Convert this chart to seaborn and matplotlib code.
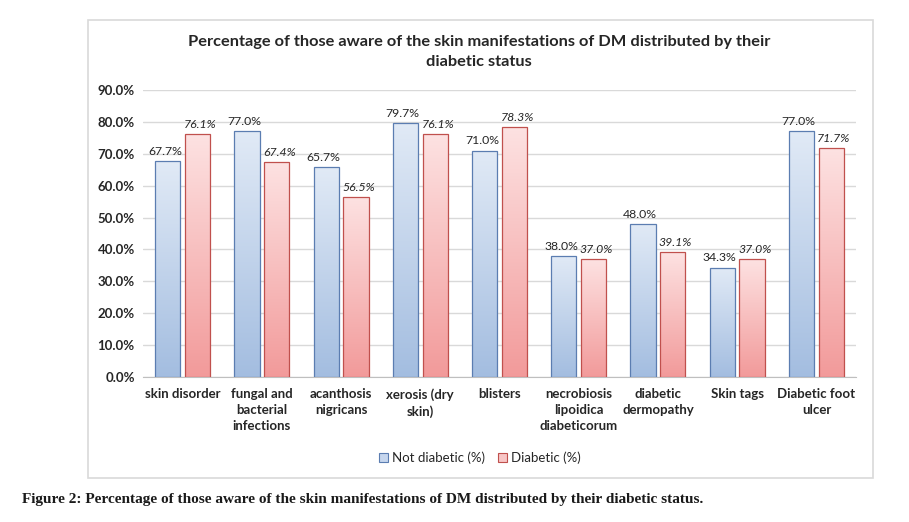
import numpy as np
import pandas as pd
import matplotlib
matplotlib.use("Agg")
import matplotlib.pyplot as plt
import seaborn as sns
from matplotlib.patches import Rectangle, Patch
from matplotlib.colors import LinearSegmentedColormap

categories = ["skin disorder", "fungal and\nbacterial\ninfections", "acanthosis\nnigricans",
              "xerosis (dry\nskin)", "blisters", "necrobiosis\nlipoidica\ndiabeticorum",
              "diabetic\ndermopathy", "Skin tags", "Diabetic foot\nulcer"]
not_diabetic = [67.7, 77.0, 65.7, 79.7, 71.0, 38.0, 48.0, 34.3, 77.0]
diabetic = [76.1, 67.4, 56.5, 76.1, 78.3, 37.0, 39.1, 37.0, 71.7]
series = ["Not diabetic (%)", "Diabetic (%)"]
yticks = [0, 10, 20, 30, 40, 50, 60, 70, 80, 90]

df = pd.DataFrame({
    "category": categories * 2,
    "value": not_diabetic + diabetic,
    "series": [series[0]] * len(categories) + [series[1]] * len(categories),
})

sns.set_style("white")
plt.rcParams["font.family"] = ["Lato", "DejaVu Sans"]

fig = plt.figure(figsize=(9.09, 5.22), dpi=100)
W, H = 909, 522
# chart frame
fig.patches.append(Rectangle((88 / W, 1 - 478 / H), (873 - 88) / W, (478 - 20) / H,
                             transform=fig.transFigure, fill=False, edgecolor="#d9d9d9", lw=1.2))

ax = fig.add_axes([143 / W, 1 - 377 / H, (856 - 143) / W, (377 - 90) / H])
sns.barplot(data=df, x="category", y="value", hue="series", hue_order=series,
            palette=["#b8cce8", "#f7b8b8"], width=0.75, gap=0.15, ax=ax,
            legend=False, errorbar=None, zorder=3)

edge_cols = {0: "#5b7db1", 1: "#c0504d"}
grad = {0: LinearSegmentedColormap.from_list("b", ["#a3bde0", "#e1eaf6"]),
        1: LinearSegmentedColormap.from_list("r", ["#f29a9a", "#fde2e2"])}
n = len(categories)
bars = list(ax.patches)
for i, p in enumerate(bars):
    s = 0 if i < n else 1
    x0, y0 = p.get_x(), p.get_y()
    w, h = p.get_width(), p.get_height()
    p.set_edgecolor(edge_cols[s])
    p.set_linewidth(0.9)
    p.set_facecolor("none")
    g = np.linspace(0, 1, 256).reshape(-1, 1)
    im = ax.imshow(g, extent=[x0, x0 + w, y0, y0 + h], origin="lower", cmap=grad[s],
                   aspect="auto", zorder=2.5)
    im.set_clip_path(p)

for i, p in enumerate(bars):
    s = 0 if i < n else 1
    val = (not_diabetic + diabetic)[i]
    dx = -2 if s == 0 else 2
    ax.annotate(f"{val:.1f}%", (p.get_x() + p.get_width() / 2, p.get_height()),
                xytext=(dx, 3), textcoords="offset points", ha="center", va="bottom",
                fontsize=8.8, color="#262626", style="italic" if s == 1 else "normal", zorder=5)

ax.set_xlim(-0.5, n - 0.5)
ax.set_ylim(0, 90)
ax.set_yticks(yticks)
ax.set_yticklabels([f"{t:.1f}%" for t in yticks], fontsize=9.5, fontweight="bold", color="#262626")
ax.set_xticks(range(n))
ax.set_xticklabels(categories, fontsize=9.5, fontweight="bold", color="#262626", linespacing=1.4)
ax.tick_params(axis="both", length=0, pad=6)
ax.tick_params(axis="x", pad=8)
ax.yaxis.grid(True, color="#d9d9d9", lw=1, zorder=0)
ax.set_axisbelow(True)
for side in ["top", "right", "left"]:
    ax.spines[side].set_visible(False)
ax.spines["bottom"].set_color("#bfbfbf")
ax.set_xlabel("")
ax.set_ylabel("")

fig.text(479 / W, 1 - 42 / H, "Percentage of those aware of the skin manifestations of DM distributed by their",
         ha="center", va="center", fontsize=11.8, fontweight="bold", color="#262626")
fig.text(479 / W, 1 - 62 / H, "diabetic status",
         ha="center", va="center", fontsize=11.8, fontweight="bold", color="#262626")

handles = [Patch(facecolor="#c6d6ee", edgecolor="#5b7db1", lw=0.8),
           Patch(facecolor="#f8c6c6", edgecolor="#c0504d", lw=0.8)]
fig.legend(handles, series, loc="center", bbox_to_anchor=(480 / W, 1 - 458 / H), ncol=2,
           frameon=False, fontsize=9.5, handlelength=0.7, handleheight=0.7, handletextpad=0.3,
           columnspacing=1.0, labelcolor="#262626")

fig.text(22 / W, 1 - 500 / H,
         "Figure 2: Percentage of those aware of the skin manifestations of DM distributed by their diabetic status.",
         ha="left", va="center", fontsize=10.95, fontweight="bold", family="Liberation Serif", color="#1a1a1a")

fig.savefig("out.png", dpi=100)
